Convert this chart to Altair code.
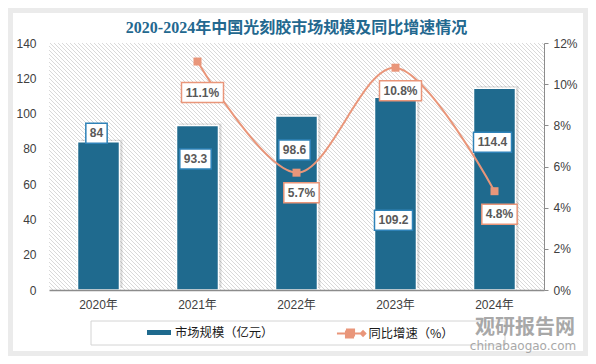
import altair as alt
import pandas as pd

# ---------------- data ----------------
years = ["2020年", "2021年", "2022年", "2023年", "2024年"]
market_size = [84, 93.3, 98.6, 109.2, 114.4]          # 市场规模（亿元）
growth_years = ["2021年", "2022年", "2023年", "2024年"]
growth_pct = [11.1, 5.7, 10.8, 4.8]                    # 同比增速（%）

series_names = ["市场规模（亿元）", "同比增速（%）"]

# ---------------- styling / layout ----------------
W, H = 495, 247
L_MAX, R_MAX = 140, 12
BLUE = "#1f6a8e"
SALMON = "#e9967a"
BOX_BLUE = "#2e82b8"
TXT = "#404040"
SANS = "Liberation Sans, Noto Sans CJK SC"
CJK = "Noto Sans CJK SC"

# label placement, pixels below (+) / above (-) the mark it belongs to
bar_label_dy = [-8.5, 33.5, 34, 123, 54]
line_label_dy = [31, 20, 23, 23]


def text_width(s):
    w = 0.0
    for ch in s:
        if ch == ".":
            w += 3.33
        elif ch == "%":
            w += 10.67
        else:
            w += 6.67
    return w


def box_path(s, h=20):
    hw = (text_width(s) + 8) / 2
    hh = h / 2
    return f"M{-hw},{-hh}H{hw}V{hh}H{-hw}Z"


bars_df = pd.DataFrame({"year": years, "value": market_size})
bars_df["label"] = [f"{v:g}" for v in market_size]
bars_df["label_y"] = [v - d * L_MAX / H for v, d in zip(market_size, bar_label_dy)]
bars_df["box"] = [box_path(s) for s in bars_df["label"]]
bars_df["series"] = series_names[0]

line_df = pd.DataFrame({"year": growth_years, "pct": growth_pct})
line_df["label"] = [f"{v:g}%" for v in growth_pct]
line_df["label_y"] = [v - d * R_MAX / H for v, d in zip(growth_pct, line_label_dy)]
line_df["box"] = [box_path(s) for s in line_df["label"]]
line_df["series"] = series_names[1]

one = pd.DataFrame({"a": [0]})

# diagonal hatch texture of the plot background, as one symbol path
hatch_path = "".join(
    f"M{x0},0L{x0 + H},{H}" for x0 in range(-H - 4, W + 4, 4)
)

# ---------------- encodings ----------------
X = alt.X(
    "year:N",
    sort=years,
    scale=alt.Scale(domain=years, paddingInner=0.576, paddingOuter=0.288),
    axis=alt.Axis(
        title=None, labelAngle=0, ticks=False, domainColor="#8c8c8c", domainWidth=1.5,
        labelFontSize=12, labelColor=TXT, labelFont=SANS, labelPadding=9, grid=False, zindex=1,
    ),
)

YL_scale = alt.Scale(domain=[0, L_MAX], nice=False, zero=True)
YR_scale = alt.Scale(domain=[0, R_MAX], nice=False, zero=True)

YL_axis = alt.Axis(
    title=None, orient="left", values=list(range(0, 141, 20)), domain=False, ticks=False, grid=False,
    labelFontSize=12, labelColor=TXT, labelFont=SANS, labelPadding=13, zindex=1,
)
YR_axis = alt.Axis(
    orient="right", title=None, values=list(range(0, 13, 2)), labelExpr="datum.value + '%'",
    domainColor="#8c8c8c", tickColor="#8c8c8c", tickSize=4, grid=False,
    labelFontSize=12, labelColor=TXT, labelFont=SANS, labelPadding=5, zindex=1,
)


def YL(field):
    return alt.Y(field, type="quantitative", scale=YL_scale, axis=YL_axis)


def YR(field):
    return alt.Y(field, type="quantitative", scale=YR_scale, axis=YR_axis)


FILL = alt.Fill(
    "series:N",
    scale=alt.Scale(domain=[series_names[0]], range=[BLUE]),
    legend=alt.Legend(
        title=None, orient="none", legendX=95, legendY=274.5, direction="horizontal",
        symbolType="M-0.8,-0.167H0.8V0.167H-0.8Z", symbolSize=900, symbolStrokeWidth=0,
        labelFontSize=12.3, labelFont=CJK, labelColor="#1a1a1a", labelOffset=1, padding=0, zindex=2,
    ),
)
STROKE = alt.Stroke(
    "series:N",
    scale=alt.Scale(domain=[series_names[1]], range=[SALMON]),
    legend=alt.Legend(
        title=None, orient="none", legendX=286.5, legendY=274.5, direction="horizontal",
        symbolType=(
            "M-0.97,0H0.97"
            "M-0.37,-0.27H0.17V-0.135H-0.37V0H0.17V0.135H-0.37V0.27H0.17"
            "M0.62,0L0.77,-0.15L0.92,0L0.77,0.15Z"
        ),
        symbolSize=900, symbolStrokeWidth=2,
        labelFontSize=12.3, labelFont=CJK, labelColor="#1a1a1a", labelOffset=1, padding=0, zindex=2,
    ),
)

# ---------------- decoration ----------------
card = alt.Chart(one).mark_rect(fill="white").encode(
    x=alt.value(-36), x2=alt.value(534), y=alt.value(-30), y2=alt.value(308)
)
hatch = alt.Chart(one).mark_point(
    shape=hatch_path, size=4, filled=False, stroke="#d2d2d2", strokeWidth=0.85, opacity=1, clip=True
).encode(x=alt.value(0), y=alt.value(0))
legend_box = alt.Chart(one).mark_rect(fill="transparent", stroke="#d4d4d4", strokeWidth=1).encode(
    x=alt.value(42), x2=alt.value(456), y=alt.value(278), y2=alt.value(302)
)
wm1 = alt.Chart(one).mark_text(
    font=CJK, fontSize=20, fontWeight="bold", color="#9a9a9a", opacity=0.85
).encode(x=alt.value(476), y=alt.value(285), text=alt.value("观研报告网"))
wm2 = alt.Chart(one).mark_text(
    font="DejaVu Sans", fontSize=12, color="#9a9a9a", opacity=0.85
).encode(x=alt.value(474), y=alt.value(303), text=alt.value("chinabaogao.com"))

# ---------------- bars (left axis) ----------------
bars = alt.Chart(bars_df).mark_bar(stroke="white", strokeWidth=1.5, opacity=1).encode(
    x=X, y=YL("value"), fill=FILL
)
bar_shadow = alt.Chart(bars_df).mark_bar(color="#000000", opacity=0.13, xOffset=3, yOffset=-2).encode(
    x=X, y=YL("value")
)
bar_boxes = alt.Chart(bars_df).mark_point(
    filled=True, fill="white", stroke=BOX_BLUE, strokeWidth=1.5, size=4, opacity=1, xOffset=-2
).encode(x=X, y=YL("label_y"), shape=alt.Shape("box:N", scale=None))
bar_text = alt.Chart(bars_df).mark_text(
    font="Liberation Sans", fontWeight="bold", fontSize=12, color="#595959", baseline="middle", dx=-2
).encode(x=X, y=YL("label_y"), text="label:N")

left = alt.layer(card, hatch, legend_box, bar_shadow, bars, bar_boxes, bar_text)

# ---------------- line (right axis) ----------------
line = alt.Chart(line_df).mark_line(interpolate="cardinal", strokeWidth=2).encode(
    x=X, y=YR("pct"), stroke=STROKE
)
pts = alt.Chart(line_df).mark_point(shape="square", size=64, filled=True, color=SALMON, opacity=1).encode(
    x=X, y=YR("pct")
)
line_boxes = alt.Chart(line_df).mark_point(
    filled=True, fill="white", stroke=SALMON, strokeWidth=1.5, size=4, opacity=1, xOffset=5
).encode(x=X, y=YR("label_y"), shape=alt.Shape("box:N", scale=None))
line_text = alt.Chart(line_df).mark_text(
    font="Liberation Sans", fontWeight="bold", fontSize=12, color="#595959", baseline="middle", dx=5
).encode(x=X, y=YR("label_y"), text="label:N")

right = alt.layer(line, pts, line_boxes, line_text, wm1, wm2)

chart = (
    alt.layer(left, right)
    .resolve_scale(y="independent")
    .properties(
        width=W,
        height=H,
        autosize="none",
        padding={"left": 41, "top": 35, "right": 44, "bottom": 66},
        background="#ebebeb",
        title=alt.TitleParams(
            "2020-2024年中国光刻胶市场规模及同比增速情况",
            font="Liberation Serif, Noto Sans CJK SC",
            fontSize=16,
            fontWeight="bold",
            color="#23688f",
            anchor="middle",
            frame="group",
            offset=8,
            dy=31,
            zindex=2,
        ),
    )
    .configure_view(stroke=None)
)

chart.save("out.html", embed_options={"renderer": "svg", "actions": False})
